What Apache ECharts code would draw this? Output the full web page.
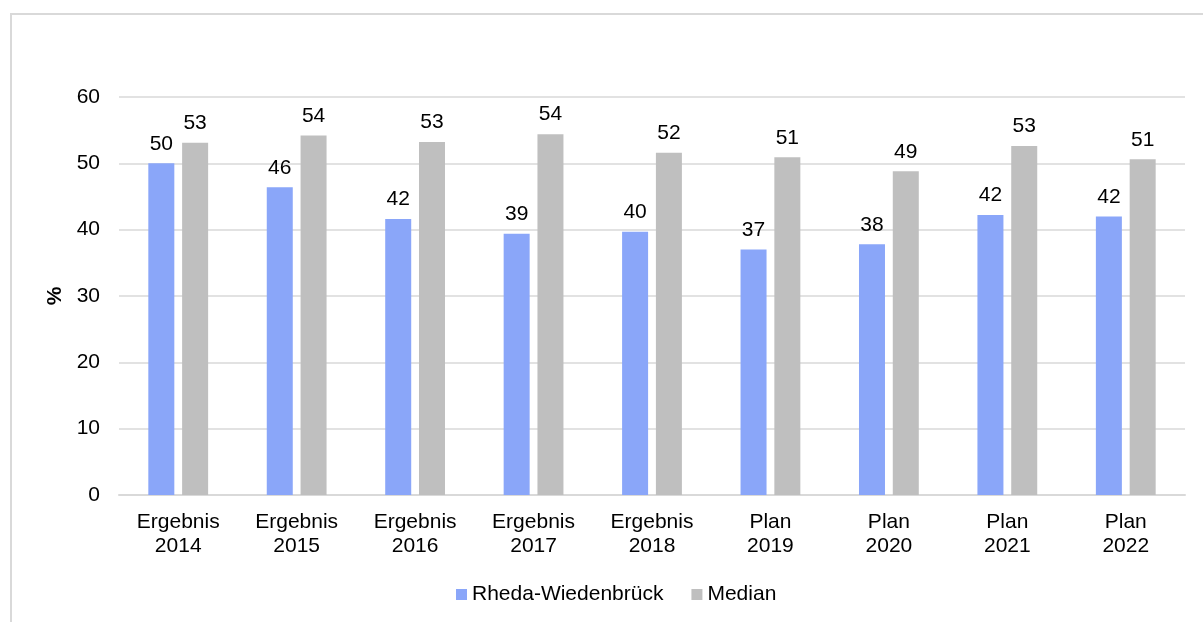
<!DOCTYPE html>
<html><head><meta charset="utf-8">
<script src="https://cdn.jsdelivr.net/npm/echarts@6/dist/echarts.min.js"></script>
<style>html,body{margin:0;padding:0;background:#fff}#c{width:1203px;height:622px}</style>
</head><body><div id="c"></div>
<script>
const categories = ['Ergebnis\n2014','Ergebnis\n2015','Ergebnis\n2016','Ergebnis\n2017','Ergebnis\n2018','Plan\n2019','Plan\n2020','Plan\n2021','Plan\n2022'];
const rhedaValues = [50.0, 46.4, 41.6, 39.4, 39.7, 37.0, 37.8, 42.2, 42.0];
const medianValues = [53.1, 54.2, 53.2, 54.4, 51.6, 50.9, 48.8, 52.6, 50.6];
const seriesNames = ['Rheda-Wiedenbrück', 'Median'];
const yTicks = {min: 0, max: 60, interval: 10};

const font = 'Liberation Sans, Arial, sans-serif';
const FS = 21;
const chart = echarts.init(document.getElementById('c'), null, {renderer: 'canvas'});
const lbl = {show: true, position: 'top', distance: 9, color: '#000', fontSize: FS, fontFamily: font,
  formatter: p => Math.round(p.value)};
chart.setOption({
  animation: false,
  backgroundColor: '#fff',
  graphic: [{type: 'rect', shape: {x: 11, y: 14, width: 1400, height: 800},
    style: {fill: 'none', stroke: '#d9d9d9', lineWidth: 2}, silent: true, z: -1}],
  grid: {left: 119, right: 18, top: 97, bottom: 127, containLabel: false},
  legend: {bottom: 12, left: 451, itemWidth: 11, itemHeight: 11, itemGap: 28,
    icon: 'rect', textStyle: {fontSize: FS, fontFamily: font, color: '#000'},
    data: seriesNames},
  xAxis: {type: 'category', data: categories,
    axisLine: {lineStyle: {color: '#d9d9d9', width: 2}}, axisTick: {show: false},
    axisLabel: {fontSize: FS, fontFamily: font, color: '#000', lineHeight: 24, margin: 15, interval: 0}},
  yAxis: {type: 'value', min: yTicks.min, max: yTicks.max, interval: yTicks.interval,
    name: '%', nameLocation: 'middle', nameGap: 45, nameRotate: 90,
    nameTextStyle: {fontSize: FS, fontWeight: 'bold', fontFamily: font, color: '#000'},
    axisLine: {show: false}, axisTick: {show: false},
    axisLabel: {fontSize: FS, fontFamily: font, color: '#000', margin: 19},
    splitLine: {lineStyle: {color: '#d9d9d9', width: 1.5}}},
  series: [
    {name: seriesNames[0], type: 'bar', data: rhedaValues, barWidth: 26, barGap: '30%',
      itemStyle: {color: '#8aa6f9'}, label: lbl},
    {name: seriesNames[1], type: 'bar', data: medianValues, barWidth: 26,
      itemStyle: {color: '#bfbfbf'}, label: lbl}
  ]
});
</script></body></html>
